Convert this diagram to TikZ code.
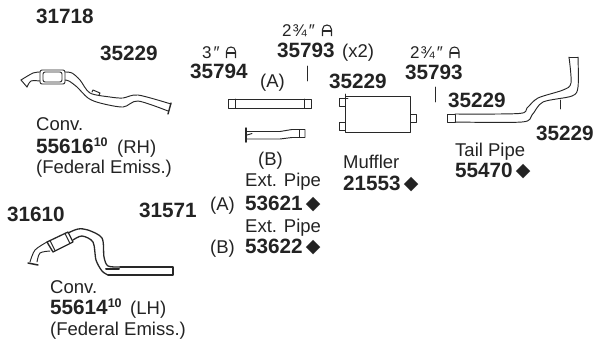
\documentclass[tikz,border=0pt]{standalone}
\usepackage{fontspec}
\setmainfont{Liberation Sans}
\newfontfamily\symbolfont{DejaVu Sans}
\definecolor{pipeink}{RGB}{40,40,40}
\definecolor{textink}{RGB}{35,35,35}
\tikzset{
    partno/.style={textink,anchor=base west,inner sep=0pt,font=\fontsize{20.7}{22}\selectfont\bfseries},
    caption/.style={textink,anchor=base west,inner sep=0pt,font=\fontsize{18.5}{20}\selectfont},
    sizetag/.style={textink,anchor=base west,inner sep=0pt,font=\fontsize{17}{19}\selectfont},
    pipeline/.style={pipeink,line width=0.95pt,line cap=round,line join=round},
    hanger/.pic={
        \draw[pipeink,line width=1.1pt] (-4.5,5.5) -- (-4.5,-1) .. controls (-4.5,-7) and (4.5,-7) .. (4.5,-1) -- (4.5,5.5);
        \draw[pipeink,line width=1.1pt] (-4.5,0.5) -- (4.5,0.5);
    }
}
\newcommand{\partdiamond}{{\symbolfont\fontsize{19}{19}\selectfont\,\raisebox{0.5pt}{◆}}}
\newcommand{\smallten}{\raisebox{7pt}{\fontsize{12.5}{13}\selectfont 10}}
\newcommand{\threequarter}{2\hspace{1pt}¾\hspace{2pt}″}

\begin{document}
\begin{tikzpicture}[x=1pt,y=-1pt]
        \useasboundingbox (0,0) rectangle (595,341);

        % part numbers
        \node[partno] (topclamp) at (36,23) {31718};
        \node[partno] (rhclamp) at (100,60) {35229};
        \node[partno] (hangerA) at (190,78) {35794};
        \node[partno] (hangerB) at (277,57) {35793};
        \node[partno] (muffclamp) at (329,88) {35229};
        \node[partno] (hangerC) at (405,79) {35793};
        \node[partno] (tailclamp) at (448,107) {35229};
        \node[partno] (tailclampB) at (536,140) {35229};
        \node[partno] (lhclampA) at (7,221) {31610};
        \node[partno] (lhclampB) at (139,217) {31571};

        % hanger sizes
        \node[sizetag] (sizeA) at (202,58) {3\hspace{2pt}″};
        \pic at (231,52.5) {hanger};
        \node[sizetag] (sizeB) at (282,36) {\threequarter};
        \pic at (327,30.5) {hanger};
        \node[sizetag] (sizeC) at (410,58) {\threequarter};
        \pic at (454.5,52.5) {hanger};
        \node[caption] (twice) at (342,57) {(x2)};

        % captions
        \node[caption] (markA) at (260,87) {(A)};
        \node[caption] (markB) at (258,165) {(B)};
        \node[caption] (rhconv) at (36,130) {Conv.};
        \node[partno] (rhpart) at (36,153) {55616\smallten};
        \node[caption] (rhside) at (117,153) {(RH)};
        \node[caption] (rhemiss) at (36,173) {(Federal Emiss.)};
        \node[caption] (lhconv) at (50,293) {Conv.};
        \node[partno] (lhpart) at (50,314) {55614\smallten};
        \node[caption] (lhside) at (130,314) {(LH)};
        \node[caption] (lhemiss) at (50,335) {(Federal Emiss.)};
        \node[caption] (extA) at (245,186) {Ext. Pipe};
        \node[caption] (extAmark) at (210,210) {(A)};
        \node[partno] (extApart) at (245,210) {53621\partdiamond};
        \node[caption] (extB) at (245,232) {Ext. Pipe};
        \node[caption] (extBmark) at (210,253) {(B)};
        \node[partno] (extBpart) at (245,253) {53622\partdiamond};
        \node[caption] (muffler) at (343,168) {Muffler};
        \node[partno] (mufflerpart) at (343,190) {21553\partdiamond};
        \node[caption] (tailpipe) at (455,156) {Tail Pipe};
        \node[partno] (tailpart) at (455,177) {55470\partdiamond};

        % right hand converter
        \draw[pipeline] (21,80) -- (27,87);
        \draw[pipeline] plot[smooth] coordinates {(21,80) (33,73) (40,72)};
        \draw[pipeline] plot[smooth] coordinates {(27,87) (31,81) (40,81)};
        \draw[pipeline,rounded corners=2pt] (40,70) rectangle (65,84);
        \draw[pipeline,rounded corners=2pt] (43,72) -- (43,82) -- (62,82) -- (62,72) -- cycle;
        \draw[pipeline] plot[smooth] coordinates {(65,72) (72,73) (80,80) (90,93) (110,97) (123,98) (138,95) (171,104)};
        \draw[pipeline] plot[smooth] coordinates {(65,80) (69,81) (77,87) (88,98) (100,103) (123,107) (138,101) (168,111)};
        \draw[pipeline,line width=1.4pt] (171,103) -- (168,114);
        \draw[pipeline] (92,92) -- (93,90) -- (100,93) -- (99,95);

        % left hand converter
        \draw[pipeline,line width=1.5pt] (28,263) -- (38,265);
        \draw[pipeline] plot[smooth] coordinates {(30,262) (35,250) (47,242)};
        \draw[pipeline] plot[smooth] coordinates {(37,262) (40,253) (50,251)};
        \draw[pipeline,line width=1.3pt] (47,242) -- (68,232) -- (73,242) -- (53,252) -- cycle;
        \draw[pipeline] (50,240.5) -- (55,250.5) (65,233.5) -- (70,243.5);
        \draw[pipeline,line width=1.3pt] plot[smooth,tension=0.5] coordinates {(68,233) (78,229) (88,230) (102,238) (104,257) (108,266) (120,267)};
        \draw[pipeline,line width=1.3pt] (120,267) -- (173,267) -- (173,275) -- (108,275);
        \draw[pipeline,line width=1.3pt] plot[smooth,tension=0.5] coordinates {(108,275) (102,271) (96,260) (93,242) (82,236) (73,240)};
        \draw[pipeline,line width=2pt] (106,268.5) -- (119,268.5);

        % extension pipes
        \draw[pipeline] (228,99) rectangle (311,108);
        \draw[pipeline] (235,99) -- (235,108) (304,99) -- (304,108);
        \draw[pipeline] (246,131.5) -- (280,131.5) -- (292,129.5) -- (305,129.5) -- (305,137.5) -- (292,137.5) -- (280,139) -- (246,139);
        \draw[pipeline] (299,129.5) -- (299,137.5);
        \draw[pipeline,line width=1.5pt] (246,128) -- (246,142);
        \draw[pipeline] (247,135) -- (252,133.5);

        % muffler
        \draw[pipeline] (345,96) rectangle (410,132);
        \draw[pipeline] (339,98) rectangle (345,106);
        \draw[pipeline] (339,122) rectangle (345,130);
        \draw[pipeline] (410,114) rectangle (416,122);
        \draw[pipeline] (345,94) -- (345,100) (343,98) -- (348,98);

        % tail pipe
        \draw[pipeline] (447,114) rectangle (455,122);
        \draw[pipeline] plot[smooth,tension=0.5] coordinates {(455,114) (519,113.5) (527,108) (538,98) (563,90) (571,83) (569,57)};
        \draw[pipeline] (569,57) -- (578,57);
        \draw[pipeline] plot[smooth,tension=0.5] coordinates {(578,57) (578,87) (572,96) (543,102) (532,115) (522,122) (455,122)};
        \draw[pipeline] (560,100) -- (560,109);

        % leader ticks
        \draw[pipeline] (307,66) -- (307,81);
        \draw[pipeline] (435,87) -- (435,102);
    \end{tikzpicture}
\end{document}
